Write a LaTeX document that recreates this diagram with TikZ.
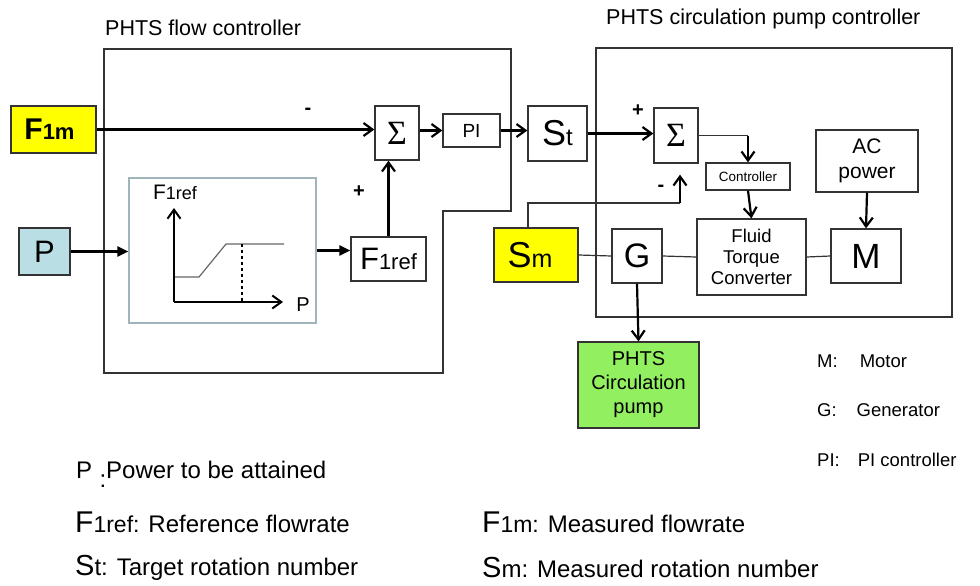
\documentclass[tikz,border=0pt]{standalone}
\usepackage{fontspec}
\setmainfont{Liberation Sans}
\newfontfamily\sigmafont{Liberation Serif}
\usetikzlibrary{arrows.meta,positioning}
\definecolor{sigyellow}{RGB}{255,255,0}
\definecolor{pblue}{RGB}{185,222,227}
\definecolor{pumpgreen}{RGB}{146,240,96}
\definecolor{plotframe}{RGB}{160,180,188}
\newcommand\fsz[2]{\fontsize{#1}{#2}\selectfont}

\begin{document}
\begin{tikzpicture}[x=1pt,y=-1pt,
    >={Straight Barb[length=9pt,width=13pt]},
    box/.style={draw=black!80,line width=1.3pt,fill=white,inner sep=0pt,align=center},
    sig/.style={box,fill=sigyellow},
    sumbox/.style={box,minimum width=44pt,font=\sigmafont\fsz{34}{34}},
    frame/.style={draw=black!80,line width=1.3pt},
    flow/.style={->,line width=2.2pt},
    feed/.style={-{Triangle[length=11pt,width=10pt]},line width=2.2pt},
    link/.style={line width=1.2pt,draw=black!80},
    tag/.style={font=\bfseries\fsz{20}{20},inner sep=0pt},
    title/.style={font=\fsz{21.5}{24},anchor=west,inner sep=0pt},
    key/.style={font=\fsz{18.5}{22},anchor=west,inner sep=0pt},
    note/.style={font=\fsz{24}{26},anchor=west,inner sep=0pt}]
\useasboundingbox (0,0) rectangle (980,586);
\draw[frame] (104,49) -- (511,49) -- (511,211) -- (443,211) -- (443,373) -- (104,373) -- cycle;
\draw[frame] (596,48) rectangle (952,317);
\node[title] (flowtitle) at (105,28) {PHTS flow controller};
\node[title] (pumptitle) at (606,19) {PHTS circulation pump controller};

\node[sig,minimum width=85pt,minimum height=47pt] (f1m) at (53.5,129.5) {{\bfseries\fsz{30}{30}F}{\bfseries\fsz{22}{22}1m}\hspace{8pt}};
\node[box,fill=pblue,minimum width=51pt,minimum height=47pt,font=\fsz{31}{31}] (p) at (44.5,251.5) {P};
\node[sumbox,minimum height=54pt] (sumf) at (397,133) {Σ};
\node[box,minimum width=57pt,minimum height=33pt,font=\fsz{19}{19}] (pi) at (471.5,130.5) {PI};
\node[box,minimum width=75pt,minimum height=44pt] (fref) at (388.5,259) {{\fsz{31}{31}F}{\fsz{22}{22}1ref}};
\node[draw=plotframe,line width=1.2pt,minimum width=187pt,minimum height=145pt] (plot) at (222.5,250.5) {};
\node[box,minimum width=59pt,minimum height=55pt] (st) at (557.5,133.5) {{\fsz{36}{36}S}{\fsz{24}{24}t}};
\node[sumbox,minimum height=55pt] (sump) at (676,135.5) {Σ};
\node[box,minimum width=84pt,minimum height=27pt,font=\fsz{13.4}{15}] (ctrl) at (748,176.5) {Controller};
\node[box,minimum width=109pt,minimum height=76pt,font=\fsz{18.5}{21}] (fluid) at (751.5,257) {Fluid\\Torque\\Converter};
\node[box,minimum width=102pt,minimum height=62pt,font=\fsz{21}{25}] (ac) at (867,161) {AC\\power};
\node[box,minimum width=70pt,minimum height=54pt,font=\fsz{35}{35}] (motor) at (866,256) {M};
\node[box,minimum width=50pt,minimum height=54pt,font=\fsz{34}{34}] (gen) at (637,256) {G};
\node[sig,minimum width=84pt,minimum height=54pt] (sm) at (536,255) {{\fsz{36}{36}S}{\fsz{25}{25}m}\hspace{12pt}};
\node[box,fill=pumpgreen,minimum width=121pt,minimum height=86pt,font=\fsz{20}{24}] (pump) at (638.5,385) {PHTS\\Circulation\\pump};

\coordinate (origin) at (174,302);
\draw[line width=1.2pt,draw=black!60] (174,277) -- (199,277) -- (226,244) -- (284,244);
\draw[dashed,line width=1.5pt] (242,244) -- (242,302);
\draw[->,line width=2pt] (origin) -- (174,208);
\draw[->,line width=2pt] (origin) -- (283,302);
\node[inner sep=0pt] (yname) at (175,192) {{\fsz{21}{21}F}{\fsz{18}{18}1ref}};
\node[inner sep=0pt,font=\fsz{20}{20}] (xname) at (303,305) {P};

\draw[flow] (f1m.east) -- (f1m.east -| sumf.west);
\draw[feed] (p.east) -- (p.east -| plot.west);
\draw[feed] (plot.east) -- (plot.east -| fref.west);
\draw[flow] (fref.north) -- (fref.north |- sumf.south);
\draw[flow] (pi.west -| sumf.east) -- (pi.west);
\draw[flow] (pi.east) -- (pi.east -| st.west);
\draw[flow] (st.east) -- (st.east -| sump.west);
\coordinate (knee) at (sump.east -| ctrl.north);
\draw[link] (sump.east) -- (knee);
\draw[flow] (knee) -- (ctrl.north);
\draw[flow] (ctrl.south) -- (fluid.north);
\draw[flow] (ac.south) -- (motor.north);
\draw[link] (sm.east) -- (gen.west);
\draw[link] (gen.east) -- (fluid.west);
\draw[link] (fluid.east) -- (motor.west);
\coordinate (turn) at (680,203);
\draw[link] ([xshift=-8pt]sm.north) |- (turn);
\draw[flow] (turn) -- ([yshift=-11pt]turn |- sump.south);
\draw[flow] (gen.south) -- (pump.north);

\node[tag] (minusf) at (308,111) {-};
\node[tag] (plusf) at (359,192) {+};
\node[tag] (plusp) at (638,111) {+};
\node[tag] (minusp) at (661,188) {-};

\node[key] (keym) at (817,361) {M:\hspace{22pt}Motor};
\node[key] (keyg) at (817,410) {G:\hspace{20pt}Generator};
\node[key] (keypi) at (817,460) {PI:\hspace{18pt}PI controller};

\node[note] (keyp) at (76,474) {P\hspace{14pt}\llap{\raisebox{-9pt}{:}}Power to be attained};
\node[note] (keyfref) at (75,522) {{\fsz{30}{30}F}{\fsz{23}{23}1ref:} Reference flowrate};
\node[note] (keyst) at (75,568) {{\fsz{29}{29}S}t: Target rotation number};
\node[note] (keyf1m) at (482,522) {{\fsz{30}{30}F}{\fsz{23}{23}1m:} Measured flowrate};
\node[note] (keysm) at (482,568) {{\fsz{29}{29}S}m: Measured rotation number};
\end{tikzpicture}
\end{document}
